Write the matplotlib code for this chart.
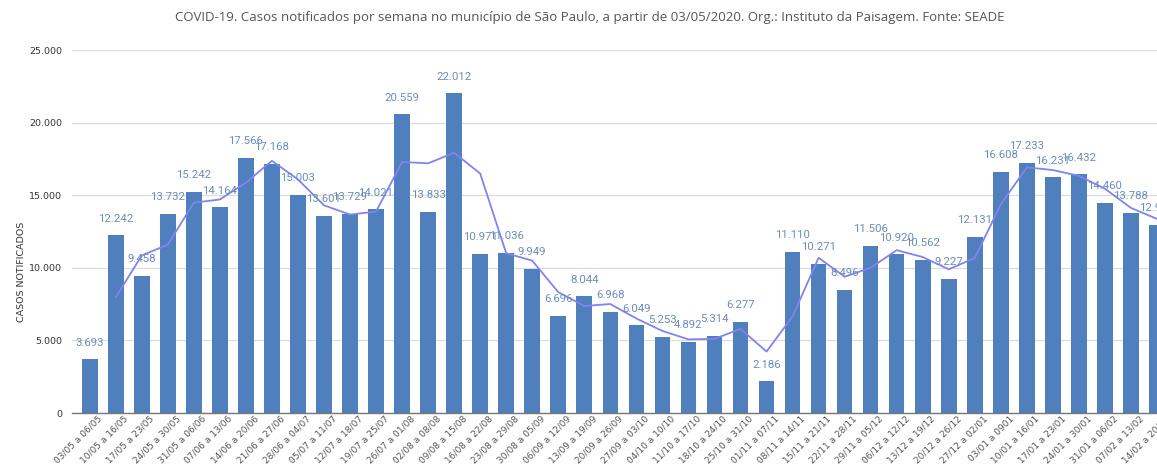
import numpy as np
import matplotlib.pyplot as plt
from matplotlib.ticker import FuncFormatter
from matplotlib.transforms import ScaledTranslation

semanas = [
    '03/05 a 06/05', '10/05 a 16/05', '17/05 a 23/05', '24/05 a 30/05',
    '31/05 a 06/06', '07/06 a 13/06', '14/06 a 20/06', '21/06 a 27/06',
    '28/06 a 04/07', '05/07 a 11/07', '12/07 a 18/07', '19/07 a 25/07',
    '26/07 a 01/08', '02/08 a 08/08', '09/08 a 15/08', '16/08 a 22/08',
    '23/08 a 29/08', '30/08 a 05/09', '06/09 a 12/09', '13/09 a 19/09',
    '20/09 a 26/09', '27/09 a 03/10', '04/10 a 10/10', '11/10 a 17/10',
    '18/10 a 24/10', '25/10 a 31/10', '01/11 a 07/11', '08/11 a 14/11',
    '15/11 a 21/11', '22/11 a 28/11', '29/11 a 05/12', '06/12 a 12/12',
    '13/12 a 19/12', '20/12 a 26/12', '27/12 a 02/01', '03/01 a 0901',
    '10/01 a 16/01', '17/01 a 23/01', '24/01 a 30/01', '31/01 a 06/02',
    '07/02 a 13/02', '14/02 a 20/02',
]
casos = [
    3693, 12242, 9458, 13732, 15242, 14164, 17566, 17168, 15003, 13601,
    13729, 14021, 20559, 13833, 22012, 10971, 11036, 9949, 6696, 8044,
    6968, 6049, 5253, 4892, 5314, 6277, 2186, 11110, 10271, 8496,
    11506, 10920, 10562, 9227, 12131, 16608, 17233, 16231, 16432, 14460,
    13788, 12950,
]

TITULO = ('COVID-19. Casos notificados por semana no município de São Paulo, '
          'a partir de 03/05/2020. Org.: Instituto da Paisagem. Fonte: SEADE')
BAR_COLOR = '#4f7fbd'
LINE_COLOR = '#8183ee'
LABEL_COLOR = '#6d8db8'


def milhar(v, pos=None):
    return '{:,.0f}'.format(v).replace(',', '.')


x = np.arange(len(casos))
valores = np.array(casos, dtype=float)
media_movel = (valores[1:] + valores[:-1]) / 2.0

fig = plt.figure(figsize=(11.57, 4.69), dpi=100)
ax = fig.add_axes([72 / 1157, 1 - 413 / 469, 1 - 72 / 1157, 363 / 469])

ax.bar(x, valores, width=0.6, color=BAR_COLOR, zorder=2)
ax.plot(x[1:], media_movel, color=LINE_COLOR, lw=1.3, zorder=3)

for xi, v in zip(x, valores):
    ax.annotate(milhar(v), (xi, v), xytext=(0, 12), textcoords='offset points',
                ha='center', va='center', fontsize=8.2, color=LABEL_COLOR,
                family='Roboto', zorder=4, annotation_clip=False)

ax.set_ylim(0, 25000)
ax.set_xlim(-0.68, 40.26)
ax.set_yticks(np.arange(0, 25001, 5000))
ax.yaxis.set_major_formatter(FuncFormatter(milhar))
ax.grid(axis='y', color='#dcdcdc', lw=0.9, zorder=0)
ax.set_axisbelow(True)
for s in ['top', 'right', 'left']:
    ax.spines[s].set_visible(False)
ax.spines['bottom'].set_color('#777777')
ax.spines['bottom'].set_linewidth(1.0)
ax.tick_params(axis='both', length=0, labelsize=6.8, colors='#333333')
ax.tick_params(axis='y', pad=7)
ax.tick_params(axis='x', pad=1)
ax.set_xticks(x)
ax.set_xticklabels(semanas, rotation=45, ha='right', va='top',
                   rotation_mode='anchor', fontsize=6.5, color='#555555')
shift = ScaledTranslation(8 / 100, 0, fig.dpi_scale_trans)
for lbl in ax.get_xticklabels():
    lbl.set_transform(lbl.get_transform() + shift)

fig.text(21 / 1157, 1 - 272 / 469, 'CASOS NOTIFICADOS', rotation=90,
         ha='center', va='center', fontsize=6.8, color='#333333')

fig.text(0.51, 0.963, TITULO, ha='center', va='center', fontsize=9.5,
         color='#555555', family='Open Sans')

fig.savefig('out.png', dpi=100)
